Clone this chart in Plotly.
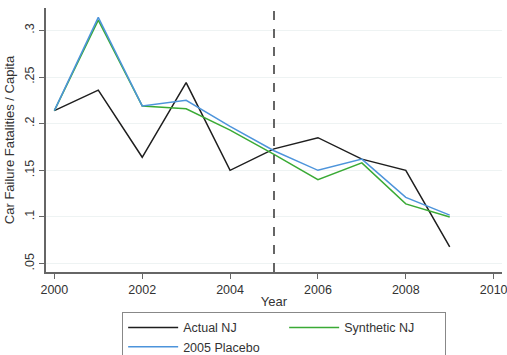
import plotly.graph_objects as go

years = [2000, 2001, 2002, 2003, 2004, 2005, 2006, 2007, 2008, 2009]
actual_nj = [0.214, 0.236, 0.164, 0.244, 0.150, 0.173, 0.185, 0.162, 0.150, 0.068]
synthetic_nj = [0.214, 0.311, 0.219, 0.216, 0.193, 0.167, 0.140, 0.158, 0.114, 0.100]
placebo_2005 = [0.214, 0.314, 0.219, 0.225, 0.197, 0.171, 0.150, 0.162, 0.121, 0.102]
treatment_year = 2005

y_tickvals = [0.05, 0.10, 0.15, 0.20, 0.25, 0.30]
y_ticktext = [".05", ".1", ".15", ".2", ".25", ".3"]
x_tickvals = [2000, 2002, 2004, 2006, 2008, 2010]

FONT = "Liberation Sans, Arial, sans-serif"
TXT = "#333333"

fig = go.Figure()
fig.add_trace(go.Scatter(x=years, y=actual_nj, mode="lines", name="Actual NJ",
                         line=dict(color="#1e1e1e", width=1.5)))
fig.add_trace(go.Scatter(x=years, y=synthetic_nj, mode="lines", name="Synthetic NJ",
                         line=dict(color="#3aaa35", width=1.5)))
fig.add_trace(go.Scatter(x=years, y=placebo_2005, mode="lines", name="2005 Placebo",
                         line=dict(color="#4d94db", width=1.5)))

fig.add_vline(x=treatment_year, line=dict(color="#333333", width=1.5, dash="dash"))

fig.update_layout(
    width=507, height=355,
    margin=dict(l=46, r=5, t=8, b=83, autoexpand=False),
    paper_bgcolor="white", plot_bgcolor="white",
    font=dict(family=FONT, size=13, color=TXT),
    legend=dict(orientation="h", x=0.167, xanchor="left", y=-0.151, yanchor="top",
                entrywidth=96, bordercolor="#888888", borderwidth=1,
                font=dict(size=12.5, color=TXT), itemwidth=50, tracegroupgap=0,
                bgcolor="white"),
)
fig.update_xaxes(range=[1999.81, 2010.19], tickvals=x_tickvals, ticks="outside",
                 ticklen=5, tickcolor="#666666", showline=True, linecolor="#666666",
                 linewidth=1.5, showgrid=False, zeroline=False, automargin=False,
                 ticklabeloverflow="allow",
                 tickfont=dict(size=12.5, color=TXT),
                 title=dict(text="Year", font=dict(size=13, color=TXT), standoff=1))
fig.update_yaxes(range=[0.041, 0.324], tickvals=y_tickvals, ticktext=y_ticktext,
                 tickangle=-90, ticks="outside", ticklen=5, tickcolor="#666666",
                 showline=True, linecolor="#666666", linewidth=1.5, automargin=False,
                 showgrid=True, gridcolor="#eef3f3", gridwidth=1, zeroline=False,
                 tickfont=dict(size=12.5, color=TXT),
                 title=dict(text="Car Failure Fatalities / Capita",
                            font=dict(size=13, color=TXT), standoff=6))

fig.write_html("out.html", config={"displayModeBar": False},
               post_script="document.body.style.margin='0';document.body.style.overflow='hidden';")
